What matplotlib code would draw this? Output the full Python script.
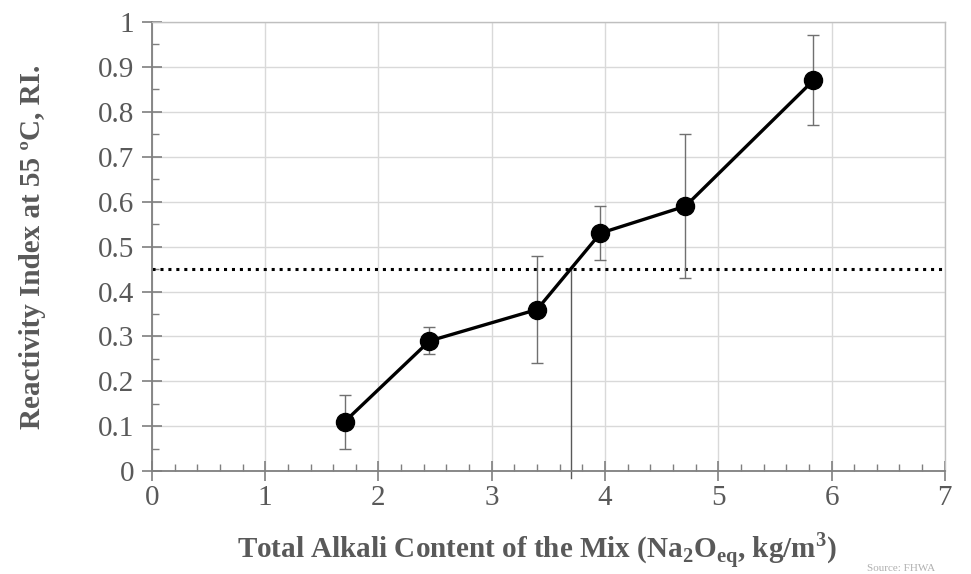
import matplotlib
matplotlib.use("Agg")
import matplotlib.pyplot as plt
from matplotlib.ticker import MultipleLocator

alkali = [1.70, 2.45, 3.40, 3.96, 4.71, 5.84]
ri = [0.11, 0.29, 0.36, 0.53, 0.59, 0.87]
ri_err = [0.06, 0.03, 0.12, 0.06, 0.16, 0.10]
threshold = 0.45
threshold_x = 3.70

plt.rcParams['font.family'] = ['Liberation Serif', 'DejaVu Serif']
tc = '#595959'

fig = plt.figure(figsize=(9.71, 5.74), dpi=100)
ax = fig.add_axes([0.1565, 0.179, 0.8165, 0.7827])

ax.set_xlim(0, 7)
ax.set_ylim(0, 1)

ax.grid(True, which='major', color='#d9d9d9', lw=1.0, zorder=0)
ax.set_axisbelow(True)

ax.axhline(threshold, color='black', lw=2.2, ls=(0, (1, 1.6)), zorder=2)
ax.plot([threshold_x, threshold_x], [-0.015, threshold], color='#595959', lw=1.0,
        zorder=2, clip_on=False)

ax.errorbar(alkali, ri, yerr=ri_err, fmt='none', ecolor='#707070', elinewidth=1.0,
            capsize=4, capthick=1.0, zorder=3)
ax.plot(alkali, ri, color='black', lw=2.4, marker='o', ms=13, zorder=4)

ax.xaxis.set_major_locator(MultipleLocator(1))
ax.xaxis.set_minor_locator(MultipleLocator(0.2))
ax.yaxis.set_minor_locator(MultipleLocator(0.05))
ax.set_yticks([0, 0.1, 0.2, 0.3, 0.4, 0.5, 0.6, 0.7, 0.8, 0.9, 1.0])
ax.set_yticklabels(['0', '0.1', '0.2', '0.3', '0.4', '0.5', '0.6', '0.7', '0.8', '0.9', '1'])

ax.tick_params(axis='both', which='major', direction='inout', length=14, width=1.2,
               color='#7f7f7f', labelsize=21, labelcolor=tc)
ax.tick_params(axis='x', which='major', pad=3)
ax.tick_params(axis='y', which='major', pad=6)
ax.tick_params(axis='both', which='minor', direction='in', length=5, width=1.0,
               color='#7f7f7f')

for s in ['left', 'bottom']:
    ax.spines[s].set_color('#7f7f7f')
    ax.spines[s].set_linewidth(1.3)
for s in ['top', 'right']:
    ax.spines[s].set_color('#bfbfbf')
    ax.spines[s].set_linewidth(1.0)

ax.set_xlabel(r'Total Alkali Content of the Mix (Na$_\mathregular{2}$O$_\mathregular{eq}$, kg/m$^\mathregular{3}$)',
              fontsize=21, fontweight='bold', color=tc, labelpad=14)
ax.xaxis.label.set_x(0.4855)
ax.set_ylabel('Reactivity Index at 55 ºC, RI.', fontsize=21, fontweight='bold',
              color=tc, labelpad=37)

fig.text(0.893, 0.001, 'Source: FHWA', fontsize=8, color='#b0b0b0', va='bottom')

fig.savefig('out.png', dpi=100)
